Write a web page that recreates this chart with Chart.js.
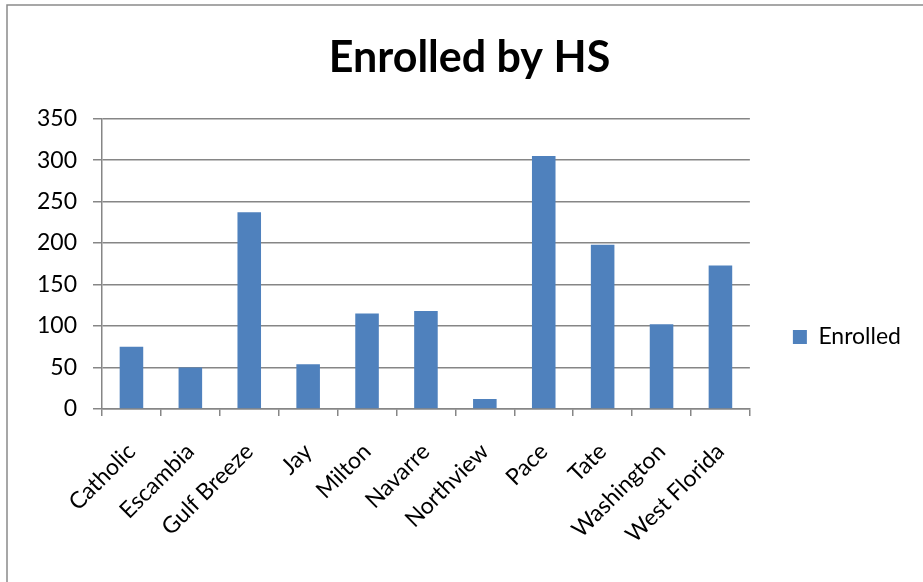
<!DOCTYPE html>
<html>
<head>
<meta charset="utf-8">
<script src="https://cdn.jsdelivr.net/npm/chart.js@4/dist/chart.umd.min.js"></script>
<style>
html,body{margin:0;padding:0;background:#fff;}
#wrap{position:relative;width:923px;height:582px;}
</style>
</head>
<body>
<div id="wrap"><canvas id="c" width="923" height="582"></canvas></div>
<script>
const categories = ["Catholic","Escambia","Gulf Breeze","Jay","Milton","Navarre","Northview","Pace","Tate","Washington","West Florida"];
const enrolled = [75, 50, 237, 54, 115, 118, 12, 305, 198, 102, 173];
const seriesName = "Enrolled";
const titleText = "Enrolled by HS";
const yMin = 0, yMax = 350, yStep = 50;

const FONT = "Lato, 'Open Sans', sans-serif";
const AXIS = "#868686";

const borderPlugin = {
  id: 'outerBorder',
  beforeDraw(chart) {
    const ctx = chart.ctx;
    ctx.save();
    ctx.fillStyle = '#fff';
    ctx.fillRect(0, 0, chart.width, chart.height);
    ctx.strokeStyle = '#8a8a8a';
    ctx.lineWidth = 1.5;
    ctx.beginPath();
    ctx.moveTo(7, chart.height);
    ctx.lineTo(7, 5);
    ctx.lineTo(chart.width, 5);
    ctx.stroke();
    ctx.restore();
  }
};

const legendShift = {
  id: 'legendShift',
  afterLayout(chart) {
    if (chart.legend) {
      chart.legend.top += 30;
      chart.legend.bottom += 30;
    }
  }
};

new Chart(document.getElementById('c'), {
  type: 'bar',
  data: {
    labels: categories,
    datasets: [{
      label: seriesName,
      data: enrolled,
      backgroundColor: '#4F81BD',
      borderWidth: 0,
      categoryPercentage: 1.0,
      barPercentage: 0.4
    }]
  },
  options: {
    responsive: false,
    animation: false,
    layout: { padding: { left: 28, right: 12, top: 32, bottom: 0 } },
    plugins: {
      title: {
        display: true,
        text: titleText,
        color: '#000',
        font: { family: FONT, size: 43, weight: 'bold' },
        padding: { top: 0, bottom: 35 }
      },
      legend: {
        display: true,
        position: 'right',
        align: 'center',
        labels: {
          boxWidth: 14,
          boxHeight: 14,
          color: '#000',
          font: { family: FONT, size: 23 },
          padding: 43
        }
      },
      tooltip: { enabled: false }
    },
    scales: {
      x: {
        grid: {
          display: true,
          offset: true,
          drawOnChartArea: false,
          drawTicks: true,
          tickLength: 7,
          color: AXIS,
          lineWidth: 1.5
        },
        border: { display: true, color: AXIS, width: 1.5 },
        ticks: {
          color: '#000',
          font: { family: FONT, size: 23 },
          minRotation: 45,
          maxRotation: 45,
          padding: 22,
          autoSkip: false
        },
        afterFit(scale) { scale.height = 173; }
      },
      y: {
        min: yMin,
        max: yMax,
        ticks: {
          stepSize: yStep,
          color: '#000',
          font: { family: FONT, size: 23 },
          padding: 16
        },
        grid: {
          color: AXIS,
          lineWidth: 1.5,
          drawTicks: true,
          tickLength: 9
        },
        border: { display: true, color: AXIS, width: 1.5 },
        afterFit(scale) { scale.width = 74; }
      }
    }
  },
  plugins: [borderPlugin, legendShift]
});
</script>
</body>
</html>
